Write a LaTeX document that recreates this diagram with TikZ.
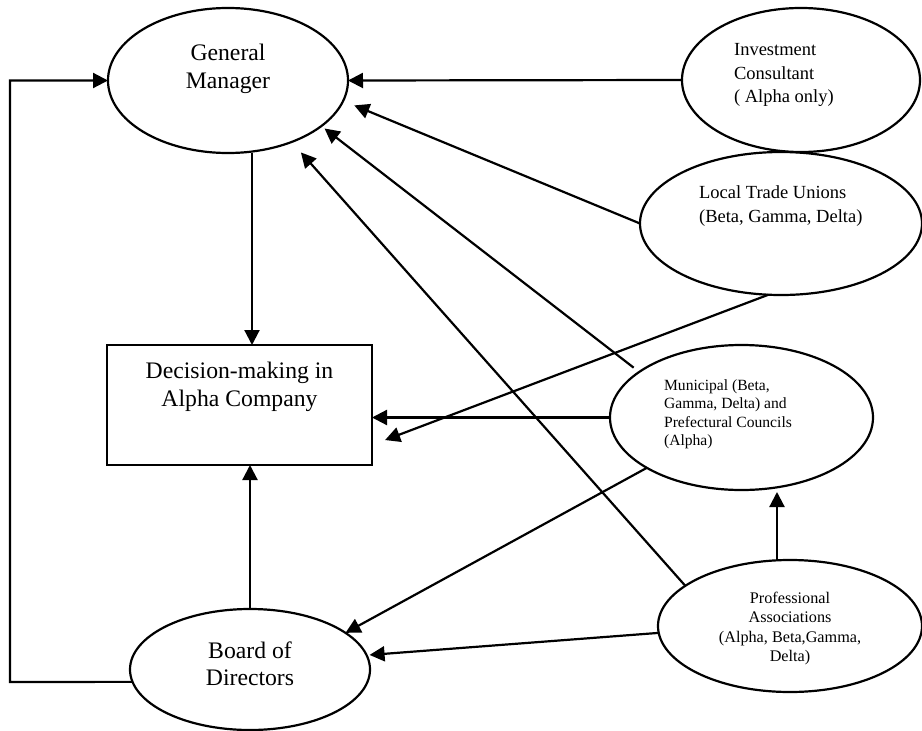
\documentclass[tikz,border=0pt]{standalone}
\usepackage{fontspec}
\setmainfont{Liberation Serif}
\usetikzlibrary{shapes.geometric,arrows.meta}
\begin{document}
\begin{tikzpicture}[x=1pt,y=-1pt,
  line width=2.2pt,
  ell/.style={draw, ellipse, inner sep=0pt, outer sep=0pt},
  box/.style={draw, rectangle, inner sep=0pt, outer sep=0pt},
  arr/.style={-{Triangle[length=15pt,width=15pt]}, line width=2.2pt},
  bigtxt/.style={font=\fontsize{23.7}{27.5}\selectfont, align=center, inner sep=0pt},
  midtxt/.style={font=\fontsize{18.5}{23.5}\selectfont, align=left, inner sep=0pt, anchor=west},
  smalltxt/.style={font=\fontsize{15.6}{18.5}\selectfont, align=left, inner sep=0pt, anchor=west},
  proftxt/.style={font=\fontsize{16.2}{19.5}\selectfont, align=center, inner sep=0pt},
]
\useasboundingbox (0,0) rectangle (922,731);

% shapes
\node[ell, minimum width=240pt, minimum height=145pt] (gm) at (228,80.5) {};
\node[ell, minimum width=238pt, minimum height=144pt] (ic) at (801,80) {};
\node[ell, minimum width=282pt, minimum height=143pt] (ltu) at (781,223.5) {};
\node[ell, minimum width=263pt, minimum height=145pt] (mun) at (741.5,417.5) {};
\node[ell, minimum width=264pt, minimum height=132pt] (prof) at (790,626) {};
\node[ell, minimum width=240pt, minimum height=121pt] (board) at (250,669.5) {};
\node[box, minimum width=265pt, minimum height=120pt] (dm) at (239.5,405) {};

% labels
\node[bigtxt] (gmtxt) at (228,69) {General\\Manager};
\node[bigtxt] (dmtxt) at (239.5,387) {Decision-making in\\Alpha Company};
\node[bigtxt] (bdtxt) at (250,664) {Board of\\Directors};
\node[midtxt] (ictxt) at (733,75) {Investment\\Consultant\\( Alpha only)};
\node[midtxt] (lttxt) at (698,206) {Local Trade Unions\\(Beta, Gamma, Delta)};
\node[smalltxt] (mutxt) at (663,414) {Municipal (Beta,\\Gamma, Delta) and\\Prefectural Councils\\(Alpha)};
\node[proftxt] (prtxt) at (790,628.5) {Professional\\Associations\\(Alpha, Beta,Gamma,\\Delta)};

% influences on the general manager
\draw[arr] (ic.west) -- (gm.east);
\draw[arr, shorten >=12pt] (ltu.west) -- (gm.-10);
\draw[arr, shorten <=7pt, shorten >=4pt] (mun.156) -- (gm.-26);
\draw[arr, shorten >=14pt] (prof.159) -- (gm.-44);

% influences on decision-making
\draw[arr] ([xshift=24pt]gm.south) -- ([xshift=12.5pt]dm.north);
\draw[arr, shorten >=14pt] (ltu.260) -- ([yshift=-40pt]dm.east);
\draw[arr] (mun.west) -- (mun.west -| dm.east);
\draw[arr] (board.north) -- (board.north |- dm.south);

% influences on the board and the councils
\draw[arr] (mun.208) -- (board.21);
\draw[arr, shorten >=3pt] (prof.183) -- (board.7);
\draw[arr, shorten >=2pt] ([xshift=-13pt]prof.north) -- ([xshift=-13pt]prof.north |- mun.south);

% board back to the general manager
\coordinate (turn) at (10,682);
\draw[arr] (board.186) -- (turn) |- (gm.west);
\end{tikzpicture}
\end{document}
